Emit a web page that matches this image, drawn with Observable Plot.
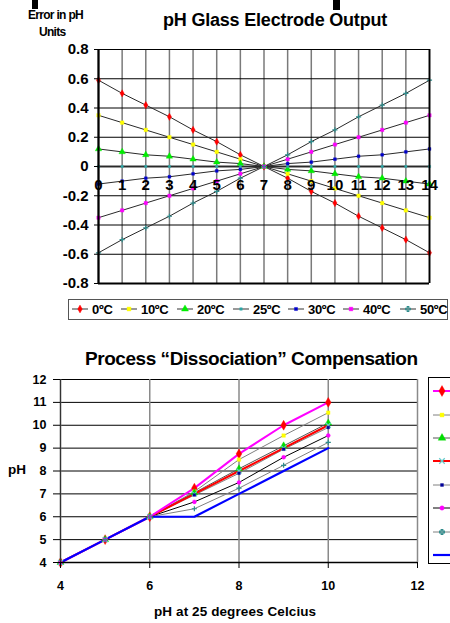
<!DOCTYPE html>
<html><head><meta charset="utf-8">
<script src="https://cdn.jsdelivr.net/npm/d3@7"></script>
<script src="https://cdn.jsdelivr.net/npm/@observablehq/plot@0.6"></script>
<style>
body{margin:0;background:#fff;font-family:"Liberation Sans",Arial,sans-serif;color:#000;}
#wrap{position:relative;width:450px;height:623px;overflow:hidden;background:#fff;}
.abs{position:absolute;white-space:nowrap;font-weight:bold;}
.abs svg{overflow:visible}
</style></head><body><div id="wrap"></div>
<script>
// ---------- Top chart data ----------
const phTop = [0,1,2,3,4,5,6,7,8,9,10,11,12,13,14];
const yTicksTop = [-0.8,-0.6,-0.4,-0.2,0,0.2,0.4,0.6,0.8];
const tempNames = ["0ºC","10ºC","20ºC","25ºC","30ºC","40ºC","50ºC"];
const err0C  = [0.59,0.50,0.42,0.34,0.25,0.17,0.08,0,-0.08,-0.17,-0.25,-0.34,-0.42,-0.50,-0.59];
const err10C = [0.35,0.30,0.25,0.20,0.15,0.10,0.05,0,-0.05,-0.10,-0.15,-0.20,-0.25,-0.30,-0.35];
const err20C = [0.12,0.10,0.08,0.07,0.05,0.03,0.02,0,-0.02,-0.03,-0.05,-0.07,-0.08,-0.10,-0.12];
const err25C = [0,0,0,0,0,0,0,0,0,0,0,0,0,0,0];
const err30C = [-0.12,-0.10,-0.08,-0.07,-0.05,-0.03,-0.02,0,0.02,0.03,0.05,0.07,0.08,0.10,0.12];
const err40C = [-0.35,-0.30,-0.25,-0.20,-0.15,-0.10,-0.05,0,0.05,0.10,0.15,0.20,0.25,0.30,0.35];
const err50C = [-0.59,-0.50,-0.42,-0.34,-0.25,-0.17,-0.08,0,0.08,0.17,0.25,0.34,0.42,0.50,0.59];

// ---------- Bottom chart data ----------
const phAt25 = [4,5,6,7,8,9,10];
const xTicksBot = [4,6,8,10,12];
const yTicksBot = [4,5,6,7,8,9,10,11,12];
const comp1 = [4,5,6,7.25,8.75,10.0,11.0];
const comp2 = [4,5,6,7.1,8.5,9.55,10.55];
const comp3 = [4,5,6,7.05,8.1,9.1,10.1];
const comp4 = [4,5,6,7.0,8.0,9.0,10.0];
const comp5 = [4,5,6,6.95,7.9,8.95,9.9];
const comp6 = [4,5,6,6.65,7.5,8.6,9.55];
const comp7 = [4,5,6,6.35,7.25,8.25,9.25];
const comp8 = [4,5,6,6.0,7.0,8.0,9.0];

const wrap = document.getElementById("wrap");
function addDiv(html, css){const d=document.createElement("div");d.className="abs";d.innerHTML=html;d.style.cssText+=css;wrap.appendChild(d);return d;}
function addDivTo(parent, html, css){const d=document.createElement("div");d.className="abs";d.innerHTML=html;d.style.cssText+=css;parent.appendChild(d);return d;}
function symPath(kind, size){
  const m = {diamond:d3.symbolDiamond, square:d3.symbolSquare, triangle:d3.symbolTriangle, plus:d3.symbolCross, times:d3.symbolTimes, circle:d3.symbolCircle, star:d3.symbolStar};
  return d3.symbol(m[kind], size)();
}

// ---------- Top chart ----------
const topSeries = [
  {name:tempNames[0], v:err0C,  color:"#ff0000", symbol:"diamond", r:2.2, fill:true},
  {name:tempNames[1], v:err10C, color:"#ffff00", symbol:"square", r:2.0, fill:true},
  {name:tempNames[2], v:err20C, color:"#00ee00", symbol:"triangle", r:2.4, fill:true},
  {name:tempNames[3], v:err25C, color:"#2aa6a6", symbol:"square", r:1.3, fill:true},
  {name:tempNames[4], v:err30C, color:"#0000cc", symbol:"square", r:1.6, fill:true},
  {name:tempNames[5], v:err40C, color:"#ff00ff", symbol:"square", r:1.9, fill:true},
  {name:tempNames[6], v:err50C, color:"#2e8b8b", symbol:"plus", r:1.8, fill:false}
];
const topRows = topSeries.flatMap(s => phTop.map((ph,i)=>({ph, err:s.v[i], temp:s.name})));
const fmtTop = d => d === 0 ? "0" : d.toFixed(1);

const topPlot = Plot.plot({
  width:450, height:300, marginLeft:98, marginRight:21, marginTop:49, marginBottom:17,
  style:{fontFamily:"Liberation Sans, Arial, sans-serif", background:"transparent", color:"#000"},
  x:{domain:[0,14]}, y:{domain:[-0.8,0.8]},
  marks:[
    Plot.ruleX(phTop, {x:d=>d, stroke:"#7a7a7a", strokeWidth:1.5}),
    Plot.ruleY(yTicksTop, {y:d=>d, stroke:"#000", strokeWidth:1}),
    Plot.ruleY([0], {y:d=>d, stroke:"#999", strokeWidth:3}),
    Plot.lineY(topRows, {x:"ph", y:"err", z:"temp", stroke:"#2a2a2a", strokeWidth:1}),
    ...topSeries.map(s => Plot.dot(topRows.filter(r=>r.temp===s.name), {
      x:"ph", y:"err", symbol:s.symbol, r:s.r,
      fill: s.fill ? s.color : "none", stroke: s.color, strokeWidth: s.fill?0.4:1.2
    })),
    Plot.ruleX([0], {x:d=>d, stroke:"#000", strokeWidth:2.2}),
    Plot.ruleX([14], {x:d=>d, stroke:"#000", strokeWidth:1.8}),
    Plot.ruleY([-0.8], {y:d=>d, stroke:"#000", strokeWidth:2}),
    Plot.axisY(yTicksTop, {tickSize:4, tickPadding:6, tickFormat:fmtTop, fontSize:15, fontWeight:"bold", label:null}),
    Plot.axisX([], {label:null, tickSize:0}),
    Plot.text(phTop, {x:d=>d, y:0, dy:19, text:d=>String(d), fontSize:15, fontWeight:"bold", fill:"#000"})
  ]
});
topPlot.style.position="absolute"; topPlot.style.left="0px"; topPlot.style.top="0px";
wrap.appendChild(topPlot);

// top crop artifacts
addDiv("", "left:32px;top:0;width:6px;height:9px;background:#000;");
addDiv("", "left:333px;top:0;width:7px;height:10px;background:#000;");

addDiv("pH Glass Electrode Output", "left:163px;top:10px;font-size:18px;letter-spacing:-0.2px;");
addDiv("Error in pH", "left:28px;top:8px;font-size:12px;letter-spacing:-0.7px;");
addDiv("Units", "left:39px;top:25px;font-size:12px;letter-spacing:-0.7px;");

// top legend
const legTop = addDiv("", "left:68px;top:299px;width:378px;height:19px;border:1px solid #555;");
const legX = [79,128,184,240,295,350,407];
topSeries.forEach((s,i)=>{
  const x = legX[i]-68;
  const sz = Math.PI*s.r*s.r*1.2;
  addDivTo(legTop, `<svg width="20" height="10" style="position:absolute;left:0;top:0"><line x1="2" x2="18" y1="5" y2="5" stroke="#555" stroke-width="1.2"/><path transform="translate(10,5)" d="${symPath(s.symbol, sz)}" fill="${s.fill?s.color:'none'}" stroke="${s.color}" stroke-width="${s.fill?0.4:1.1}"/></svg>`, `left:${x-10}px;top:4px;width:20px;height:10px;`);
  addDivTo(legTop, s.name, `left:${x+12}px;top:2px;font-size:13px;letter-spacing:-0.3px;`);
});

// ---------- Bottom chart ----------
const botSeries = [
  {id:"s1", v:comp1, line:"#ff00ff", lw:2,   mk:"#ff0000", symbol:"diamond", r:3.0, fill:true},
  {id:"s2", v:comp2, line:"#808080", lw:1,   mk:"#ffff00", symbol:"square", r:2.0, fill:true},
  {id:"s3", v:comp3, line:"#555555", lw:1,   mk:"#00dd00", symbol:"triangle", r:2.6, fill:true},
  {id:"s4", v:comp4, line:"#ff0000", lw:2,   mk:"#66cccc", symbol:"times", r:2.4, fill:false},
  {id:"s5", v:comp5, line:"#808080", lw:1,   mk:"#000099", symbol:"square", r:1.5, fill:true},
  {id:"s6", v:comp6, line:"#000000", lw:1,   mk:"#ff00ff", symbol:"circle", r:2.0, fill:true},
  {id:"s7", v:comp7, line:"#808080", lw:1,   mk:"#2e8b8b", symbol:"plus", r:1.8, fill:false},
  {id:"s8", v:comp8, line:"#0000ff", lw:2.2, mk:null}
];
const botRows = botSeries.flatMap(s => phAt25.map((p,i)=>({p, v:s.v[i], id:s.id})));
const drawOrder = ["s2","s3","s5","s6","s7","s4","s1","s8"];
const botPlot = Plot.plot({
  width:450, height:283, marginLeft:60, marginRight:33, marginTop:39, marginBottom:61,
  style:{fontFamily:"Liberation Sans, Arial, sans-serif", background:"transparent", color:"#000"},
  x:{domain:[4,12]}, y:{domain:[4,12]},
  marks:[
    Plot.ruleY(yTicksBot, {y:d=>d, stroke:"#000", strokeWidth:1}),
    Plot.ruleX(xTicksBot, {x:d=>d, stroke:"#8a8a8a", strokeWidth:1.5}),
    ...drawOrder.map(id => { const s = botSeries.find(q=>q.id===id);
      return Plot.line(botRows.filter(r=>r.id===id), {x:"p", y:"v", stroke:s.line, strokeWidth:s.lw}); }),
    ...botSeries.filter(s=>s.mk).map(s => Plot.dot(botRows.filter(r=>r.id===s.id), {
      x:"p", y:"v", symbol:s.symbol, r:s.r, fill:s.fill?s.mk:"none", stroke:s.mk, strokeWidth:s.fill?0.4:1.2})),
    Plot.ruleX([4], {x:d=>d, stroke:"#333", strokeWidth:1.2}),
    Plot.ruleY([4], {y:d=>d, stroke:"#000", strokeWidth:1.3}),
    Plot.axisY(yTicksBot, {tickSize:7, tickPadding:7, fontSize:12.5, fontWeight:"bold", label:null}),
    Plot.axisX(xTicksBot, {tickSize:6, tickPadding:13, fontSize:12.5, fontWeight:"bold", label:null})
  ]
});
botPlot.style.position="absolute"; botPlot.style.left="0px"; botPlot.style.top="340px";
wrap.appendChild(botPlot);

addDiv("Process “Dissociation” Compensation", "left:85px;top:348px;font-size:19px;letter-spacing:-0.45px;");
addDiv("pH", "left:8px;top:462px;font-size:13.5px;");
addDiv("pH at 25 degrees Celcius", "left:154px;top:604px;font-size:13.5px;letter-spacing:0.1px;");

// bottom legend
const legBot = addDiv("", "left:428px;top:377px;width:60px;height:185px;border:1px solid #000;");
const legBotY = [390,414,437,460,484,507,531,554];
botSeries.forEach((s,i)=>{
  const y = legBotY[i]-377;
  let m = "";
  if (s.mk) { const sz = Math.PI*s.r*s.r*1.2;
    m = `<path transform="translate(13,6)" d="${symPath(s.symbol, sz)}" fill="${s.fill?s.mk:'none'}" stroke="${s.mk}" stroke-width="${s.fill?0.4:1.2}"/>`; }
  addDivTo(legBot, `<svg width="30" height="12" style="position:absolute;left:0;top:0"><line x1="4" x2="30" y1="6" y2="6" stroke="${s.line}" stroke-width="${s.lw}"/>${m}</svg>`, `left:0px;top:${y-6}px;width:30px;height:12px;`);
});
</script></body></html>
